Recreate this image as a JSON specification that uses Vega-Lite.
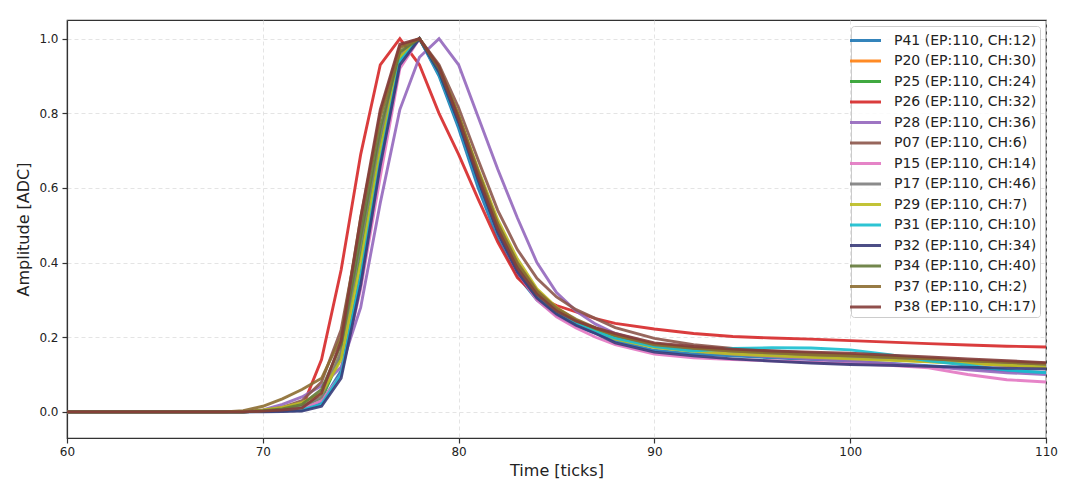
{
  "$schema": "https://vega.github.io/schema/vega-lite/v6.json",
  "width": 979,
  "height": 418,
  "autosize": {"type": "none"},
  "padding": {"left": 67, "top": 20, "right": 20, "bottom": 49},
  "background": "white",
  "datasets": {
    "series": [
      {"id": "P41", "label": "P41 (EP:110, CH:12)"},
      {"id": "P20", "label": "P20 (EP:110, CH:30)"},
      {"id": "P25", "label": "P25 (EP:110, CH:24)"},
      {"id": "P26", "label": "P26 (EP:110, CH:32)"},
      {"id": "P28", "label": "P28 (EP:110, CH:36)"},
      {"id": "P07", "label": "P07 (EP:110, CH:6)"},
      {"id": "P15", "label": "P15 (EP:110, CH:14)"},
      {"id": "P17", "label": "P17 (EP:110, CH:46)"},
      {"id": "P29", "label": "P29 (EP:110, CH:7)"},
      {"id": "P31", "label": "P31 (EP:110, CH:10)"},
      {"id": "P32", "label": "P32 (EP:110, CH:34)"},
      {"id": "P34", "label": "P34 (EP:110, CH:40)"},
      {"id": "P37", "label": "P37 (EP:110, CH:2)"},
      {"id": "P38", "label": "P38 (EP:110, CH:17)"}
    ]
  },
  "data": {
    "values": [
      {"t": 60, "P41": 0, "P20": 0, "P25": 0, "P26": 0, "P28": 0, "P07": 0, "P15": 0, "P17": 0, "P29": 0, "P31": 0, "P32": 0, "P34": 0, "P37": 0, "P38": 0},
      {"t": 68, "P41": 0, "P20": 0, "P25": 0, "P26": 0, "P28": 0, "P07": 0, "P15": 0, "P17": 0, "P29": 0, "P31": 0, "P32": 0, "P34": 0, "P37": 0, "P38": 0},
      {"t": 69, "P41": 0, "P20": 0, "P25": 0, "P26": 0, "P28": 0, "P07": 0, "P15": 0, "P17": 0, "P29": 0, "P31": 0, "P32": 0, "P34": 0, "P37": 0.003, "P38": 0},
      {"t": 70, "P41": 0.002, "P20": 0.002, "P25": 0.002, "P26": 0.002, "P28": 0.005, "P07": 0.004, "P15": 0.002, "P17": 0.002, "P29": 0.005, "P31": 0.001, "P32": 0, "P34": 0.003, "P37": 0.015, "P38": 0.002},
      {"t": 71, "P41": 0.004, "P20": 0.008, "P25": 0.006, "P26": 0.004, "P28": 0.02, "P07": 0.012, "P15": 0.005, "P17": 0.006, "P29": 0.012, "P31": 0.003, "P32": 0.001, "P34": 0.008, "P37": 0.035, "P38": 0.005},
      {"t": 72, "P41": 0.005, "P20": 0.015, "P25": 0.012, "P26": 0.01, "P28": 0.04, "P07": 0.03, "P15": 0.008, "P17": 0.015, "P29": 0.025, "P31": 0.005, "P32": 0.002, "P34": 0.02, "P37": 0.06, "P38": 0.01},
      {"t": 73, "P41": 0.025, "P20": 0.04, "P25": 0.035, "P26": 0.14, "P28": 0.07, "P07": 0.08, "P15": 0.03, "P17": 0.04, "P29": 0.05, "P31": 0.02, "P32": 0.015, "P34": 0.06, "P37": 0.09, "P38": 0.05},
      {"t": 74, "P41": 0.11, "P20": 0.16, "P25": 0.15, "P26": 0.38, "P28": 0.12, "P07": 0.22, "P15": 0.1, "P17": 0.16, "P29": 0.14, "P31": 0.1, "P32": 0.09, "P34": 0.18, "P37": 0.2, "P38": 0.19},
      {"t": 75, "P41": 0.37, "P20": 0.44, "P25": 0.43, "P26": 0.69, "P28": 0.28, "P07": 0.5, "P15": 0.33, "P17": 0.45, "P29": 0.4, "P31": 0.36, "P32": 0.34, "P34": 0.47, "P37": 0.52, "P38": 0.52},
      {"t": 76, "P41": 0.68, "P20": 0.73, "P25": 0.72, "P26": 0.93, "P28": 0.56, "P07": 0.8, "P15": 0.63, "P17": 0.74, "P29": 0.7, "P31": 0.67, "P32": 0.66, "P34": 0.76, "P37": 0.79, "P38": 0.81},
      {"t": 77, "P41": 0.94, "P20": 0.955, "P25": 0.95, "P26": 1.0, "P28": 0.81, "P07": 0.98, "P15": 0.92, "P17": 0.96, "P29": 0.95, "P31": 0.94, "P32": 0.93, "P34": 0.965, "P37": 0.975, "P38": 0.985},
      {"t": 78, "P41": 1, "P20": 1, "P25": 1, "P26": 0.93, "P28": 0.95, "P07": 1, "P15": 1, "P17": 1, "P29": 1, "P31": 1, "P32": 1, "P34": 1, "P37": 1, "P38": 1},
      {"t": 79, "P41": 0.9, "P20": 0.915, "P25": 0.915, "P26": 0.8, "P28": 1.0, "P07": 0.93, "P15": 0.91, "P17": 0.915, "P29": 0.92, "P31": 0.905, "P32": 0.91, "P34": 0.92, "P37": 0.925, "P38": 0.925},
      {"t": 80, "P41": 0.76, "P20": 0.78, "P25": 0.785, "P26": 0.69, "P28": 0.93, "P07": 0.815, "P15": 0.775, "P17": 0.785, "P29": 0.795, "P31": 0.77, "P32": 0.775, "P34": 0.79, "P37": 0.795, "P38": 0.785},
      {"t": 81, "P41": 0.6, "P20": 0.63, "P25": 0.635, "P26": 0.57, "P28": 0.79, "P07": 0.675, "P15": 0.62, "P17": 0.635, "P29": 0.65, "P31": 0.615, "P32": 0.62, "P34": 0.64, "P37": 0.645, "P38": 0.63},
      {"t": 82, "P41": 0.465, "P20": 0.495, "P25": 0.5, "P26": 0.455, "P28": 0.65, "P07": 0.54, "P15": 0.48, "P17": 0.5, "P29": 0.515, "P31": 0.48, "P32": 0.48, "P34": 0.5, "P37": 0.505, "P38": 0.49},
      {"t": 83, "P41": 0.365, "P20": 0.39, "P25": 0.393, "P26": 0.36, "P28": 0.52, "P07": 0.435, "P15": 0.375, "P17": 0.395, "P29": 0.41, "P31": 0.38, "P32": 0.375, "P34": 0.395, "P37": 0.4, "P38": 0.385},
      {"t": 84, "P41": 0.3, "P20": 0.318, "P25": 0.32, "P26": 0.31, "P28": 0.4, "P07": 0.358, "P15": 0.3, "P17": 0.32, "P29": 0.33, "P31": 0.31, "P32": 0.305, "P34": 0.322, "P37": 0.325, "P38": 0.315},
      {"t": 85, "P41": 0.258, "P20": 0.27, "P25": 0.272, "P26": 0.285, "P28": 0.32, "P07": 0.308, "P15": 0.255, "P17": 0.272, "P29": 0.28, "P31": 0.265, "P32": 0.262, "P34": 0.275, "P37": 0.278, "P38": 0.27},
      {"t": 86, "P41": 0.23, "P20": 0.24, "P25": 0.242, "P26": 0.268, "P28": 0.27, "P07": 0.274, "P15": 0.225, "P17": 0.242, "P29": 0.245, "P31": 0.237, "P32": 0.232, "P34": 0.245, "P37": 0.248, "P38": 0.243},
      {"t": 87, "P41": 0.21, "P20": 0.218, "P25": 0.22, "P26": 0.25, "P28": 0.235, "P07": 0.25, "P15": 0.2, "P17": 0.22, "P29": 0.22, "P31": 0.215, "P32": 0.21, "P34": 0.223, "P37": 0.225, "P38": 0.225},
      {"t": 88, "P41": 0.19, "P20": 0.2, "P25": 0.2, "P26": 0.237, "P28": 0.21, "P07": 0.226, "P15": 0.18, "P17": 0.2, "P29": 0.195, "P31": 0.198, "P32": 0.185, "P34": 0.205, "P37": 0.205, "P38": 0.21},
      {"t": 90, "P41": 0.165, "P20": 0.175, "P25": 0.178, "P26": 0.222, "P28": 0.18, "P07": 0.197, "P15": 0.155, "P17": 0.177, "P29": 0.172, "P31": 0.175, "P32": 0.16, "P34": 0.182, "P37": 0.18, "P38": 0.185},
      {"t": 92, "P41": 0.155, "P20": 0.165, "P25": 0.168, "P26": 0.21, "P28": 0.165, "P07": 0.18, "P15": 0.145, "P17": 0.167, "P29": 0.162, "P31": 0.163, "P32": 0.15, "P34": 0.172, "P37": 0.17, "P38": 0.175},
      {"t": 94, "P41": 0.15, "P20": 0.16, "P25": 0.16, "P26": 0.202, "P28": 0.155, "P07": 0.17, "P15": 0.14, "P17": 0.16, "P29": 0.155, "P31": 0.17, "P32": 0.142, "P34": 0.165, "P37": 0.163, "P38": 0.168},
      {"t": 96, "P41": 0.145, "P20": 0.155, "P25": 0.155, "P26": 0.198, "P28": 0.148, "P07": 0.163, "P15": 0.137, "P17": 0.155, "P29": 0.15, "P31": 0.172, "P32": 0.136, "P34": 0.16, "P37": 0.158, "P38": 0.163},
      {"t": 98, "P41": 0.14, "P20": 0.15, "P25": 0.15, "P26": 0.195, "P28": 0.142, "P07": 0.158, "P15": 0.133, "P17": 0.15, "P29": 0.146, "P31": 0.171, "P32": 0.131, "P34": 0.156, "P37": 0.153, "P38": 0.16},
      {"t": 100, "P41": 0.135, "P20": 0.145, "P25": 0.147, "P26": 0.191, "P28": 0.137, "P07": 0.153, "P15": 0.129, "P17": 0.146, "P29": 0.142, "P31": 0.166, "P32": 0.127, "P34": 0.152, "P37": 0.15, "P38": 0.157},
      {"t": 102, "P41": 0.13, "P20": 0.14, "P25": 0.142, "P26": 0.187, "P28": 0.13, "P07": 0.148, "P15": 0.125, "P17": 0.141, "P29": 0.138, "P31": 0.153, "P32": 0.125, "P34": 0.148, "P37": 0.146, "P38": 0.152},
      {"t": 104, "P41": 0.124, "P20": 0.135, "P25": 0.138, "P26": 0.183, "P28": 0.122, "P07": 0.143, "P15": 0.118, "P17": 0.137, "P29": 0.134, "P31": 0.137, "P32": 0.122, "P34": 0.143, "P37": 0.142, "P38": 0.147},
      {"t": 106, "P41": 0.117, "P20": 0.13, "P25": 0.133, "P26": 0.179, "P28": 0.113, "P07": 0.138, "P15": 0.1, "P17": 0.132, "P29": 0.13, "P31": 0.125, "P32": 0.12, "P34": 0.138, "P37": 0.137, "P38": 0.142},
      {"t": 108, "P41": 0.11, "P20": 0.125, "P25": 0.128, "P26": 0.176, "P28": 0.105, "P07": 0.134, "P15": 0.086, "P17": 0.127, "P29": 0.125, "P31": 0.112, "P32": 0.117, "P34": 0.134, "P37": 0.133, "P38": 0.137},
      {"t": 110, "P41": 0.105, "P20": 0.12, "P25": 0.123, "P26": 0.174, "P28": 0.1, "P07": 0.13, "P15": 0.08, "P17": 0.122, "P29": 0.12, "P31": 0.105, "P32": 0.115, "P34": 0.13, "P37": 0.128, "P38": 0.132}
    ]
  },
  "transform": [
    {"fold": ["P41", "P20", "P25", "P26", "P28", "P07", "P15", "P17", "P29", "P31", "P32", "P34", "P37", "P38"], "as": ["id", "v"]},
    {"lookup": "id", "from": {"data": {"name": "series"}, "key": "id", "fields": ["label"]}}
  ],
  "mark": {"type": "line", "strokeWidth": 2.9, "opacity": 0.9, "clip": true},
  "encoding": {
    "x": {
      "field": "t", "type": "quantitative",
      "scale": {"domain": [60, 110], "nice": false, "zero": false},
      "axis": {"values": [60, 70, 80, 90, 100, 110], "title": "Time [ticks]", "titlePadding": 5, "labelFlush": false, "labelOverlap": false}
    },
    "y": {
      "field": "v", "type": "quantitative",
      "scale": {"domain": [-0.07, 1.05], "nice": false, "zero": false},
      "axis": {"values": [0, 0.2, 0.4, 0.6, 0.8, 1.0], "format": ".1f", "title": "Amplitude [ADC]", "titlePadding": 7, "labelPadding": 4, "labelFlush": false}
    },
    "color": {
      "field": "label", "type": "nominal",
      "scale": {
        "domain": ["P41 (EP:110, CH:12)", "P20 (EP:110, CH:30)", "P25 (EP:110, CH:24)", "P26 (EP:110, CH:32)", "P28 (EP:110, CH:36)", "P07 (EP:110, CH:6)", "P15 (EP:110, CH:14)", "P17 (EP:110, CH:46)", "P29 (EP:110, CH:7)", "P31 (EP:110, CH:10)", "P32 (EP:110, CH:34)", "P34 (EP:110, CH:40)", "P37 (EP:110, CH:2)", "P38 (EP:110, CH:17)"],
        "range": ["#1f77b4", "#ff7f0e", "#2ca02c", "#d62728", "#9467bd", "#8c564b", "#e377c2", "#7f7f7f", "#bcbd22", "#17becf", "#393b79", "#637939", "#8c6d31", "#843c39"]
      },
      "legend": {
        "title": null,
        "orient": "top-right",
        "offset": 6,
        "symbolType": "M-1.55,0H1.55",
        "symbolSize": 400,
        "symbolStrokeWidth": 3,
        "labelFontSize": 14,
        "labelFont": "DejaVu Sans",
        "labelColor": "#222222",
        "labelLimit": 400,
        "labelOffset": 17,
        "rowPadding": 1.5,
        "padding": 3,
        "strokeColor": "#cccccc",
        "fillColor": "rgba(255,255,255,0.85)",
        "cornerRadius": 3
      }
    }
  },
  "config": {
    "view": {"stroke": "#333333", "strokeWidth": 1.2},
    "axis": {
      "domainColor": "#333333", "domainWidth": 1.2,
      "tickColor": "#333333", "tickSize": 5, "tickWidth": 1.2,
      "labelFont": "DejaVu Sans", "labelFontSize": 12, "labelColor": "#222222", "labelPadding": 3,
      "titleFont": "DejaVu Sans", "titleFontSize": 16, "titleFontWeight": "normal", "titleColor": "#222222",
      "gridColor": "#dddddd", "gridDash": [4, 3], "gridWidth": 0.8
    }
  }
}
